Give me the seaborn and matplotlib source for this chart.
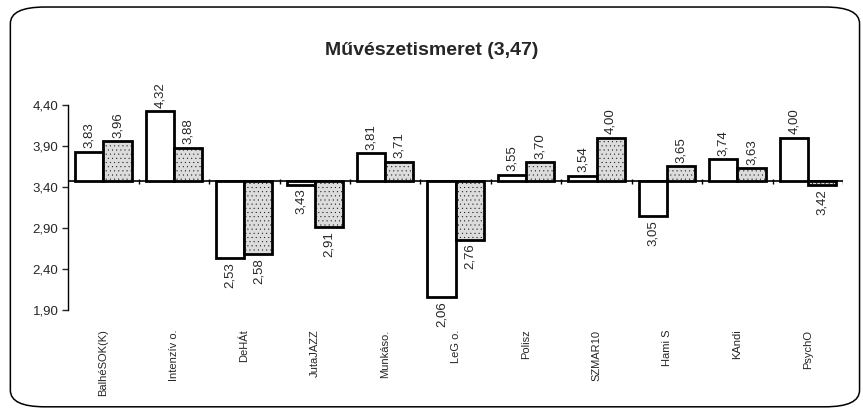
import matplotlib
matplotlib.use('Agg')
import matplotlib.pyplot as plt
from matplotlib.patches import FancyBboxPatch
import numpy as np
import pandas as pd
import seaborn as sns

# Data
categories = ['BalhéSOK(K)', 'Intenzív o.', 'DeHÁt', 'JutaJAZZ', 'Munkáso.', 'LeG o.',
              'Polisz', 'SZMAR10', 'Hami S', 'KAndi', 'PsychO']
white_vals = [3.83, 4.32, 2.53, 3.43, 3.81, 2.06, 3.55, 3.54, 3.05, 3.74, 4.00]
gray_vals = [3.96, 3.88, 2.58, 2.91, 3.71, 2.76, 3.70, 4.00, 3.65, 3.63, 3.42]
series_names = ['A', 'B']
baseline = 3.47
title = 'Művészetismeret (3,47)'
yticks = [1.90, 2.40, 2.90, 3.40, 3.90, 4.40]

sns.set_theme(style='white')
plt.rcParams['font.family'] = ['Liberation Sans', 'DejaVu Sans']
plt.rcParams['hatch.linewidth'] = 0.2

# long-form table, bars drawn as deviation from the baseline
df = pd.DataFrame({
    'cat': categories * 2,
    'series': [series_names[0]] * len(categories) + [series_names[1]] * len(categories),
    'value': white_vals + gray_vals,
})
df['dev'] = df['value'] - baseline

fig = plt.figure(figsize=(8.63, 4.13), dpi=100)
ax = fig.add_axes([0.079, 0.249, 0.898, 0.497])

sns.barplot(data=df, x='cat', y='dev', hue='series', order=categories,
            hue_order=series_names, palette=['white', '#dcdcdc'],
            edgecolor='black', linewidth=2, bottom=baseline,
            legend=False, errorbar=None, ax=ax, width=0.8)

# fine stipple on the second series
for bar in ax.containers[1]:
    bar.set_hatch('....')

# value labels
for cont, vals in zip(ax.containers, [white_vals, gray_vals]):
    for bar, v in zip(cont, vals):
        xc = bar.get_x() + bar.get_width() / 2
        lab = f'{v:.2f}'.replace('.', ',')
        if v >= baseline:
            ax.text(xc, v + 0.04, lab, rotation=90, ha='center', va='bottom',
                    fontsize=9.5, clip_on=False)
        else:
            ax.text(xc, v - 0.05, lab, rotation=90, ha='center', va='top',
                    fontsize=9.5, clip_on=False)

# category axis line at the baseline with ticks between groups
n = len(categories)
ax.axhline(baseline, color='black', lw=1.2, zorder=0)
bounds = np.arange(n + 1) - 0.5
ax.vlines(bounds[1:], baseline - 0.03, baseline + 0.03, color='black', lw=1)

ax.set_xlim(-0.5, n - 0.5)
ax.set_ylim(yticks[0], yticks[-1])
ax.set_yticks(yticks)
ax.set_yticklabels([f'{t:.2f}'.replace('.', ',') for t in yticks], fontsize=9.5)
ax.tick_params(axis='y', direction='out', length=4, width=1, left=True, pad=3)
ax.tick_params(axis='x', length=0, pad=14, labelrotation=90, labelsize=8)
ax.set_xlabel('')
ax.set_ylabel('')
for s in ['top', 'right', 'bottom']:
    ax.spines[s].set_visible(False)
ax.spines['left'].set_color('black')
ax.spines['left'].set_linewidth(1)

fig.text(0.5, 0.878, title, ha='center', va='center', fontsize=14, fontweight='bold')

# rounded outer frame
frame = FancyBboxPatch((0.012, 0.015), 0.984, 0.968, boxstyle='round,pad=0,rounding_size=0.04',
                       transform=fig.transFigure, fill=False, edgecolor='black', lw=1.1)
fig.patches.append(frame)

fig.savefig('out.png', dpi=100)
